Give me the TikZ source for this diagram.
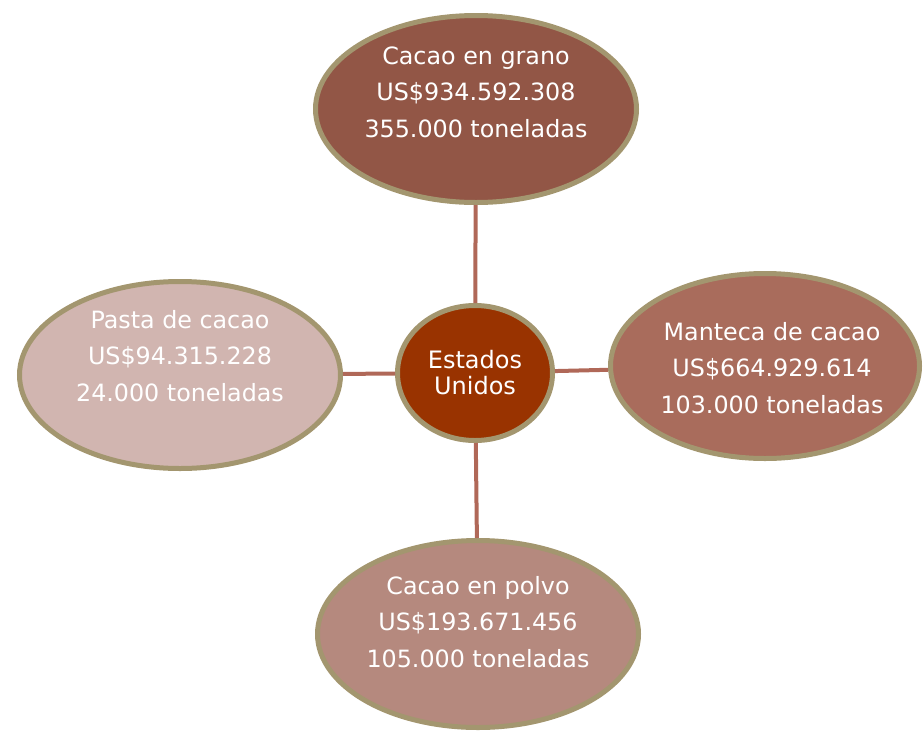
\documentclass[tikz,border=0pt]{standalone}
\definecolor{rimolive}{RGB}{163,150,111}
\definecolor{linkbrown}{RGB}{176,104,88}
\definecolor{granobrown}{RGB}{146,86,70}
\definecolor{usared}{RGB}{153,51,0}
\definecolor{pastapink}{RGB}{209,181,176}
\definecolor{mantecabrown}{RGB}{169,108,92}
\definecolor{polvobrown}{RGB}{181,137,126}
\usepackage{fontspec}
\setmainfont{DejaVu Sans}
\usepackage{tikz}
\usetikzlibrary{shapes.geometric}

\begin{document}
\begin{tikzpicture}[x=1pt,y=-1pt]

%
% Styles
%
\tikzstyle{blob}   = [ellipse,draw=rimolive,line width=5pt,inner sep=0pt,minimum width=321pt,minimum height=187pt]
\tikzstyle{hub}    = [ellipse,draw=rimolive,line width=5pt,fill=usared,inner sep=0pt,minimum width=155pt,minimum height=135pt,
                      text=white,align=center,font=\fontsize{24}{26}\selectfont]
\tikzstyle{txt}    = [text=white,align=center,font=\fontsize{23.8}{36.5}\selectfont]
\tikzstyle{link}   = [line width=4pt,draw=linkbrown]

\useasboundingbox (0,0) rectangle (923,731);

\node[blob,fill=granobrown]   (grano)   at (476,109) {};
\node[blob,fill=pastapink]    (pasta)   at (180,375) {};
\node[blob,fill=mantecabrown,minimum width=309pt,minimum height=185pt] (manteca) at (765,366) {};
\node[blob,fill=polvobrown]   (polvo)   at (478,634) {};
\node[hub] (usa) at (475,373) {Estados\\Unidos};

\draw[link] (usa) -- (grano);
\draw[link] (usa) -- (pasta);
\draw[link] (usa) -- (manteca);
\draw[link] (usa) -- (polvo);

\node[txt] (granotxt)   at ([yshift=17pt]grano)              {Cacao en grano\\US\$934.592.308\\355.000 toneladas};
\node[txt] (pastatxt)   at ([yshift=19pt]pasta)              {Pasta de cacao\\US\$94.315.228\\24.000 toneladas};
\node[txt] (mantecatxt) at ([xshift=7pt,yshift=-2pt]manteca) {Manteca de cacao\\US\$664.929.614\\103.000 toneladas};
\node[txt] (polvotxt)   at ([yshift=12pt]polvo)              {Cacao en polvo\\US\$193.671.456\\105.000 toneladas};

\end{tikzpicture}
\end{document}
